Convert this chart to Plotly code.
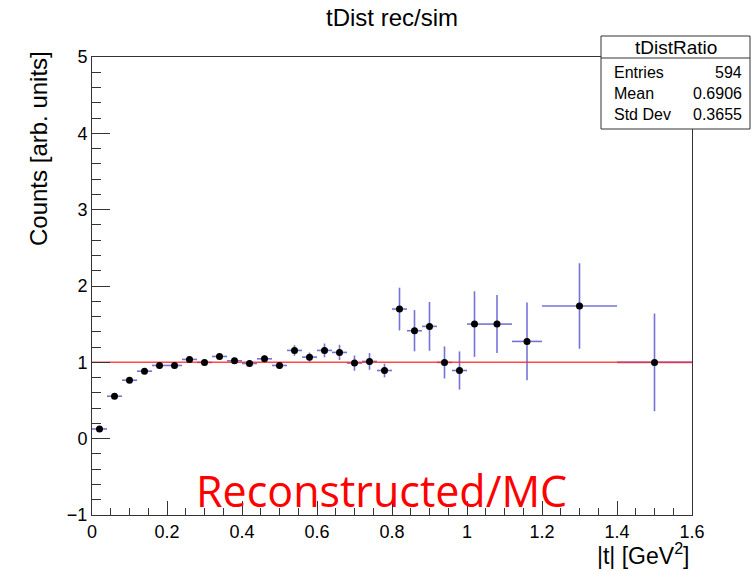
import plotly.graph_objects as go

# ---- data ----
t_centers = [0.02, 0.06, 0.10, 0.14, 0.18, 0.22, 0.26, 0.30, 0.34, 0.38,
             0.42, 0.46, 0.50, 0.54, 0.58, 0.62, 0.66, 0.70, 0.74, 0.78,
             0.82, 0.86, 0.90, 0.94, 0.98, 1.02, 1.08, 1.16, 1.30, 1.50]
t_halfwidth = [0.02] * 26 + [0.04, 0.04, 0.10, 0.10]
ratio = [0.127, 0.556, 0.766, 0.884, 0.959, 0.959, 1.038, 0.999, 1.077, 1.020,
         0.985, 1.046, 0.959, 1.156, 1.068, 1.156, 1.130, 0.990, 1.012, 0.893,
         1.698, 1.414, 1.471, 0.999, 0.893, 1.501, 1.501, 1.274, 1.738, 0.999]
ratio_err = [0.02, 0.02, 0.025, 0.03, 0.03, 0.03, 0.035, 0.035, 0.04, 0.04,
             0.04, 0.045, 0.045, 0.07, 0.06, 0.09, 0.10, 0.10, 0.11, 0.09,
             0.28, 0.27, 0.32, 0.21, 0.25, 0.43, 0.38, 0.51, 0.56, 0.64]
ref_x = [0.0, 1.6]
ref_y = [1.0, 1.0]

stats_name = "tDistRatio"
stats_labels = ["Entries", "Mean", "Std Dev"]
stats_values = ["594", "0.6906", "0.3655"]

W, H = 751, 571
L, R, T, B = 92, 692, 57, 515  # plot area in pixels


def px(x):
    return (x - L) / (R - L)


def py(y):
    return (B - y) / (B - T)


FONT = "Liberation Sans, Arial, Helvetica, sans-serif"
ERRCOL = "rgba(70,70,200,0.75)"

fig = go.Figure()
# error bars first
fig.add_trace(go.Scatter(
    x=t_centers, y=ratio, mode="markers",
    marker=dict(color="rgba(0,0,0,0)", size=1),
    error_y=dict(type="data", array=ratio_err, visible=True,
                 color=ERRCOL, thickness=1.6, width=0),
    error_x=dict(type="data", array=t_halfwidth, visible=True,
                 color=ERRCOL, thickness=1.6, width=0),
    hoverinfo="skip", showlegend=False))
# reference line at 1
fig.add_trace(go.Scatter(x=ref_x, y=ref_y, mode="lines",
                         line=dict(color="rgba(255,40,40,0.85)", width=1.5),
                         hoverinfo="skip", showlegend=False))
# markers on top
fig.add_trace(go.Scatter(
    x=t_centers, y=ratio, mode="markers",
    marker=dict(color="black", size=7),
    showlegend=False))

fig.update_layout(
    width=W, height=H,
    margin=dict(l=L, r=W - R, t=T, b=H - B, pad=0),
    paper_bgcolor="white", plot_bgcolor="white",
    font=dict(family=FONT, color="black"),
    title=dict(text="tDist rec/sim", x=392 / W, xanchor="center",
               y=1 - 18 / H, yanchor="middle",
               font=dict(size=24, family=FONT)),
    showlegend=False,
)
fig.update_xaxes(
    range=[0, 1.6], dtick=0.2, tick0=0, showgrid=False, zeroline=False,
    showline=True, linecolor="#333", linewidth=1, mirror=True,
    ticks="inside", ticklen=14, tickcolor="#333", tickwidth=1,
    tickfont=dict(size=18, family=FONT),
    minor=dict(dtick=0.05, ticks="inside", ticklen=7, tickcolor="#333", showgrid=False),
)
fig.update_yaxes(
    range=[-1, 5], dtick=1, tick0=0, showgrid=False, zeroline=False,
    showline=True, linecolor="#333", linewidth=1, mirror=True,
    ticks="inside", ticklen=18, tickcolor="#333", tickwidth=1,
    tickfont=dict(size=18, family=FONT), tickformat="d",
    minor=dict(dtick=0.2, ticks="inside", ticklen=9, tickcolor="#333", showgrid=False),
)

ann = []
# axis titles
ann.append(dict(text="Counts [arb. units]", xref="paper", yref="paper",
                x=px(38), y=py(149), xanchor="center", yanchor="middle",
                textangle=-90, showarrow=False, font=dict(size=24, family=FONT)))
ann.append(dict(text="|t| [GeV<sup>2</sup>]", xref="paper", yref="paper",
                x=1.0, y=py(554), xanchor="right", yanchor="middle",
                showarrow=False, font=dict(size=23, family=FONT)))
# big red label
ann.append(dict(text="Reconstructed/MC", xref="paper", yref="paper",
                x=px(381), y=py(490), xanchor="center", yanchor="middle",
                showarrow=False,
                font=dict(size=43, family="Open Sans, Noto Sans, sans-serif", color="red")))
# stats box text
ann.append(dict(text=stats_name, xref="paper", yref="paper",
                x=px(676), y=py(47), xanchor="center", yanchor="middle",
                showarrow=False, font=dict(size=19, family=FONT)))
for i, (lab, val) in enumerate(zip(stats_labels, stats_values)):
    yy = 72 + i * 21.5
    ann.append(dict(text=lab, xref="paper", yref="paper", x=px(612), y=py(yy),
                    xanchor="left", yanchor="middle", showarrow=False,
                    font=dict(size=16, family=FONT)))
    ann.append(dict(text=val, xref="paper", yref="paper", x=px(744), y=py(yy),
                    xanchor="right", yanchor="middle", showarrow=False,
                    font=dict(size=16, family=FONT)))
fig.update_layout(annotations=ann)

fig.update_layout(shapes=[
    dict(type="rect", xref="paper", yref="paper", x0=px(601), x1=px(750),
         y0=py(129), y1=py(36), line=dict(color="#333", width=1),
         fillcolor="white", layer="above"),
    dict(type="line", xref="paper", yref="paper", x0=px(601), x1=px(750),
         y0=py(58), y1=py(58), line=dict(color="#333", width=1), layer="above"),
])

fig.write_html("out.html")
